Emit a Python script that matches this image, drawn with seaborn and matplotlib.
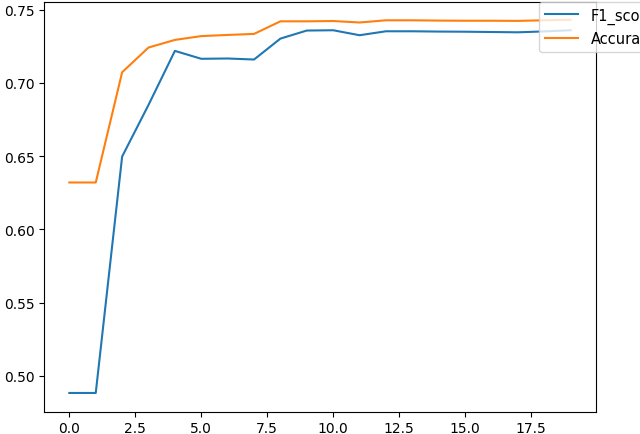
import matplotlib
matplotlib.use("Agg")
import matplotlib.pyplot as plt
import seaborn as sns
import pandas as pd

epochs = list(range(20))
f1_score = [0.4882, 0.4882, 0.6497, 0.6850, 0.7219, 0.7165, 0.7167, 0.7160,
            0.7303, 0.7358, 0.7360, 0.7326, 0.7353, 0.7353, 0.7351, 0.7350,
            0.7348, 0.7346, 0.7352, 0.7360]
accuracy = [0.6320, 0.6320, 0.7073, 0.7242, 0.7294, 0.7320, 0.7328, 0.7335,
            0.7421, 0.7421, 0.7423, 0.7413, 0.7428, 0.7428, 0.7426, 0.7425,
            0.7425, 0.7424, 0.7428, 0.7432]
series_names = ["F1_score", "Accuracy"]

df = pd.DataFrame({"epoch": epochs, series_names[0]: f1_score, series_names[1]: accuracy})

fig = plt.figure(figsize=(6.4, 4.35), dpi=100)
ax = fig.add_axes([44.3 / 640, (435 - 412.7) / 435, 551.4 / 640, 409.7 / 435])

sns.lineplot(data=df, x="epoch", y=series_names[0], ax=ax, color="tab:blue",
             label=series_names[0], linewidth=1.5)
sns.lineplot(data=df, x="epoch", y=series_names[1], ax=ax, color="tab:orange",
             label=series_names[1], linewidth=1.5)

ax.set_xlabel("")
ax.set_ylabel("")
ax.set_ylim(0.4754, 0.7553)
ax.legend(fontsize=10.5, loc="upper left", handlelength=2.25, handletextpad=0.9,
          bbox_to_anchor=(539.3 / 640, 1 - 2.7 / 435),
          bbox_transform=fig.transFigure, borderaxespad=0)

fig.savefig("out.png", dpi=100)
